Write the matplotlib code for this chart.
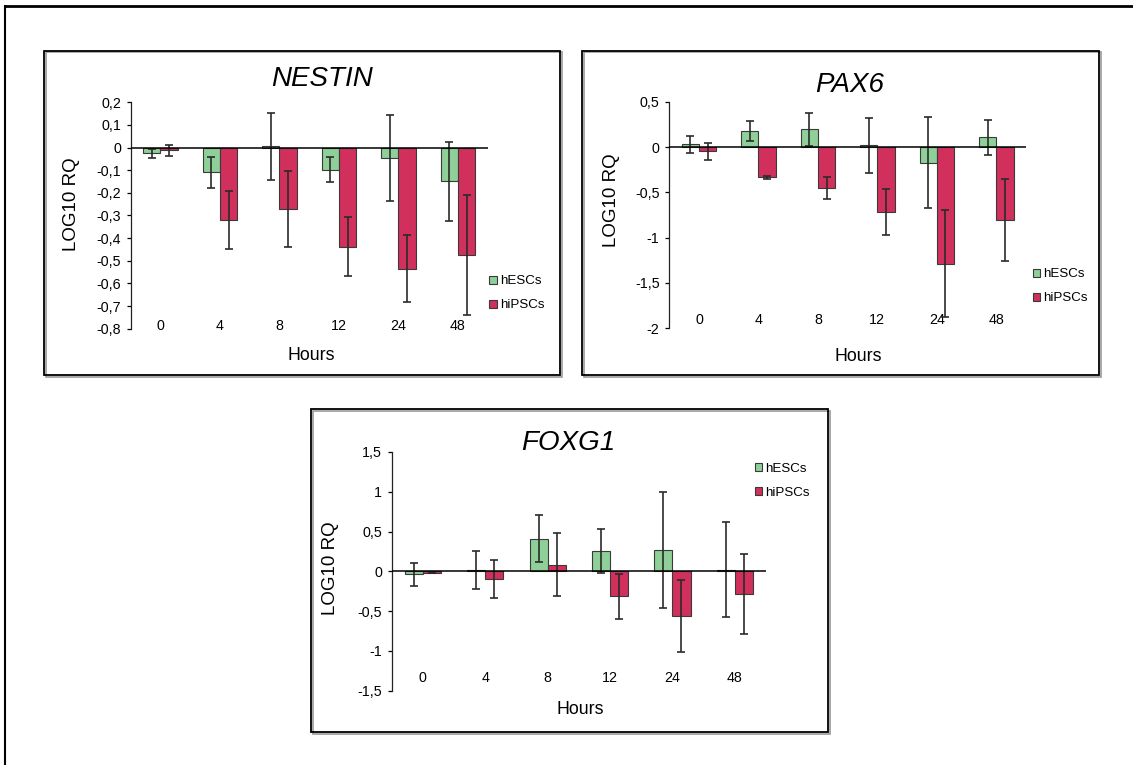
import numpy as np
import matplotlib.pyplot as plt
from matplotlib.patches import Rectangle, Patch

plt.rcParams['font.family'] = ['Liberation Sans', 'DejaVu Sans']

hours = ['0', '4', '8', '12', '24', '48']
groups = ['hESCs', 'hiPSCs']

# NESTIN
nestin_esc = [-0.025, -0.11, 0.005, -0.097, -0.047, -0.149]
nestin_esc_err = [0.02, 0.07, 0.148, 0.057, 0.19, 0.175]
nestin_ips = [-0.012, -0.32, -0.272, -0.437, -0.535, -0.474]
nestin_ips_err = [0.024, 0.13, 0.168, 0.13, 0.147, 0.265]

# PAX6
pax6_esc = [0.03, 0.176, 0.195, 0.018, -0.173, 0.107]
pax6_esc_err = [0.095, 0.115, 0.18, 0.3, 0.5, 0.19]
pax6_ips = [-0.048, -0.335, -0.452, -0.713, -1.29, -0.805]
pax6_ips_err = [0.09, 0.02, 0.117, 0.255, 0.59, 0.455]

# FOXG1
foxg1_esc = [-0.038, 0.017, 0.41, 0.26, 0.268, 0.021]
foxg1_esc_err = [0.14, 0.243, 0.295, 0.277, 0.733, 0.597]
foxg1_ips = [-0.02, -0.096, 0.084, -0.314, -0.561, -0.285]
foxg1_ips_err = [0.005, 0.24, 0.40, 0.28, 0.45, 0.5]

green = '#8fcf98'
red = '#d1305d'

W, H = 1133, 765
fig = plt.figure(figsize=(W / 100, H / 100), dpi=100)


def fx(x):
    return x / W


def fy(y):
    return 1 - y / H


def box(x0, y0, x1, y1):
    # panel frame with a faint gray drop shadow
    fig.patches.append(Rectangle((fx(x0 + 1.5), fy(y1 + 1.5)), fx(x1 - x0), (y1 - y0) / H,
                                 transform=fig.transFigure, fill=False,
                                 edgecolor='#9a9a9a', lw=1.2, zorder=0))
    fig.patches.append(Rectangle((fx(x0), fy(y1)), fx(x1 - x0), (y1 - y0) / H,
                                 transform=fig.transFigure, fill=False,
                                 edgecolor='black', lw=1.3, zorder=1))


def panel(rect, ylim, yticks, yticklabels, esc, esc_err, ips, ips_err,
          title, title_xy, ylab_xy, xlab_xy, leg_anchor, tick_pad):
    left, top, right, bottom = rect
    ax = fig.add_axes([fx(left), fy(bottom), fx(right - left), (bottom - top) / H])
    x = np.arange(len(hours))
    w = 0.29
    ekw = dict(ecolor='#2b2b2b', elinewidth=1.2, capsize=2.6, capthick=1.2)
    ax.bar(x - w / 2, esc, w, color=green, edgecolor='#3a3a3a', lw=0.8,
           yerr=esc_err, error_kw=ekw, zorder=2)
    ax.bar(x + w / 2, ips, w, color=red, edgecolor='#3a3a3a', lw=0.8,
           yerr=ips_err, error_kw=ekw, zorder=2)
    ax.axhline(0, color='black', lw=1.1, zorder=3)
    ax.set_xlim(-0.5, 5.5)
    ax.set_ylim(*ylim)
    ax.set_yticks(yticks)
    ax.set_yticklabels(yticklabels, fontsize=10.3)
    ax.tick_params(axis='y', length=3, width=0.9, pad=4, direction='out')
    ax.set_xticks(x)
    ax.set_xticklabels(hours, fontsize=10.3)
    ax.tick_params(axis='x', length=0, pad=tick_pad)
    for s in ['top', 'right', 'bottom']:
        ax.spines[s].set_visible(False)
    ax.spines['left'].set_color('#222222')
    ax.spines['left'].set_linewidth(0.9)
    ax.patch.set_visible(False)
    fig.text(fx(title_xy[0]), fy(title_xy[1]), title, fontsize=20, style='italic',
             ha='center', va='center')
    fig.text(fx(ylab_xy[0]), fy(ylab_xy[1]), 'LOG10 RQ', fontsize=13.5,
             rotation=90, ha='center', va='center')
    fig.text(fx(xlab_xy[0]), fy(xlab_xy[1]), 'Hours', fontsize=12.8,
             ha='center', va='center')
    handles = [Patch(facecolor=green, edgecolor='#3a3a3a', lw=0.8),
               Patch(facecolor=red, edgecolor='#3a3a3a', lw=0.8)]
    fig.legend(handles, groups, loc='center left',
               bbox_to_anchor=(fx(leg_anchor[0]), fy(leg_anchor[1])),
               frameon=False, fontsize=9.6, handlelength=0.55, handleheight=0.55,
               handletextpad=0.25, labelspacing=0.9, borderpad=0, borderaxespad=0)
    return ax


# outer frame
fig.add_artist(plt.Line2D([fx(5), fx(W)], [fy(6), fy(6)], color='black', lw=2,
                          transform=fig.transFigure))
fig.add_artist(plt.Line2D([fx(5), fx(5)], [fy(6), fy(H)], color='black', lw=1.5,
                          transform=fig.transFigure))

box(44, 51, 560, 375)
box(582, 51, 1099, 375)
box(311, 409, 828, 732)

panel((130.7, 102.3, 487.7, 328.7), (-0.8, 0.2),
      np.round(np.arange(-0.8, 0.21, 0.1), 1),
      ['-0,8', '-0,7', '-0,6', '-0,5', '-0,4', '-0,3', '-0,2', '-0,1', '0', '0,1', '0,2'],
      nestin_esc, nestin_esc_err, nestin_ips, nestin_ips_err,
      'NESTIN', (321.7, 79), (71.7, 204), (311.7, 355), (489.5, 293.5), -7)

panel((669.3, 101.7, 1026, 328.3), (-2, 0.5),
      [-2, -1.5, -1, -0.5, 0, 0.5],
      ['-2', '-1,5', '-1', '-0,5', '0', '0,5'],
      pax6_esc, pax6_esc_err, pax6_ips, pax6_ips_err,
      'PAX6', (850, 85), (611.7, 200), (858, 356.7), (1032.5, 286.3), -11)

panel((391.7, 452, 766, 690.7), (-1.5, 1.5),
      [-1.5, -1, -0.5, 0, 0.5, 1, 1.5],
      ['-1,5', '-1', '-0,5', '0', '0,5', '1', '1,5'],
      foxg1_esc, foxg1_esc_err, foxg1_ips, foxg1_ips_err,
      'FOXG1', (568, 443.3), (330.7, 568.3), (580.7, 710), (754.8, 480.5), -14)

fig.savefig('out.png', dpi=100)
